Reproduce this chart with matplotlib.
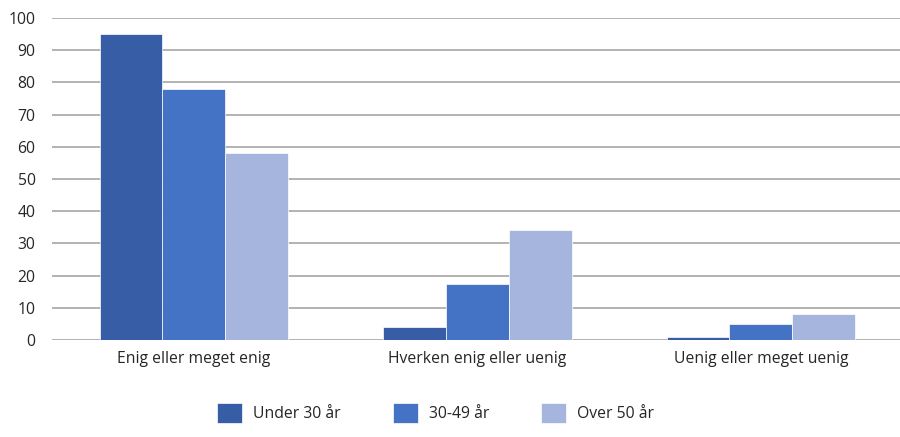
import matplotlib.pyplot as plt
import numpy as np

plt.rcParams['font.family'] = ['Open Sans', 'DejaVu Sans']

categories = ['Enig eller meget enig', 'Hverken enig eller uenig', 'Uenig eller meget uenig']
series_names = ['Under 30 år', '30-49 år', 'Over 50 år']
under_30 = [95, 4, 1]
age_30_49 = [78, 17.5, 5]
over_50 = [58, 34.2, 8.2]
yticks = [0, 10, 20, 30, 40, 50, 60, 70, 80, 90, 100]

colors = ['#365DA5', '#4472C4', '#A5B5DD']

fig = plt.figure(figsize=(9, 4.37), dpi=100)
ax = fig.add_axes([0.058, 0.222, 0.945, 0.737])

x = np.arange(len(categories))
w = 0.222
for i, (vals, name) in enumerate(zip([under_30, age_30_49, over_50], series_names)):
    ax.bar(x + (i - 1) * w, vals, width=w, color=colors[i], label=name,
           edgecolor='white', linewidth=0.5, zorder=3)

ax.set_xlim(-0.5, 2.5)
ax.set_ylim(0, 100)
ax.set_yticks(yticks)
ax.set_xticks(x)
ax.set_xticklabels(categories, fontsize=11.3, color='#262626')
ax.tick_params(axis='y', labelsize=11.3, labelcolor='#262626', length=0, pad=12)
ax.tick_params(axis='x', length=0, pad=8)
ax.yaxis.grid(True, color='#A6A6A6', linewidth=1.2, zorder=0)
for s in ax.spines.values():
    s.set_visible(False)

leg = fig.legend(loc='lower center', bbox_to_anchor=(0.484, 0.0), ncol=3, frameon=False,
                 fontsize=11.3, handlelength=1.6, handleheight=1.6, columnspacing=3.3,
                 handletextpad=0.7, labelcolor='#262626')

fig.savefig('out.png', dpi=100)
